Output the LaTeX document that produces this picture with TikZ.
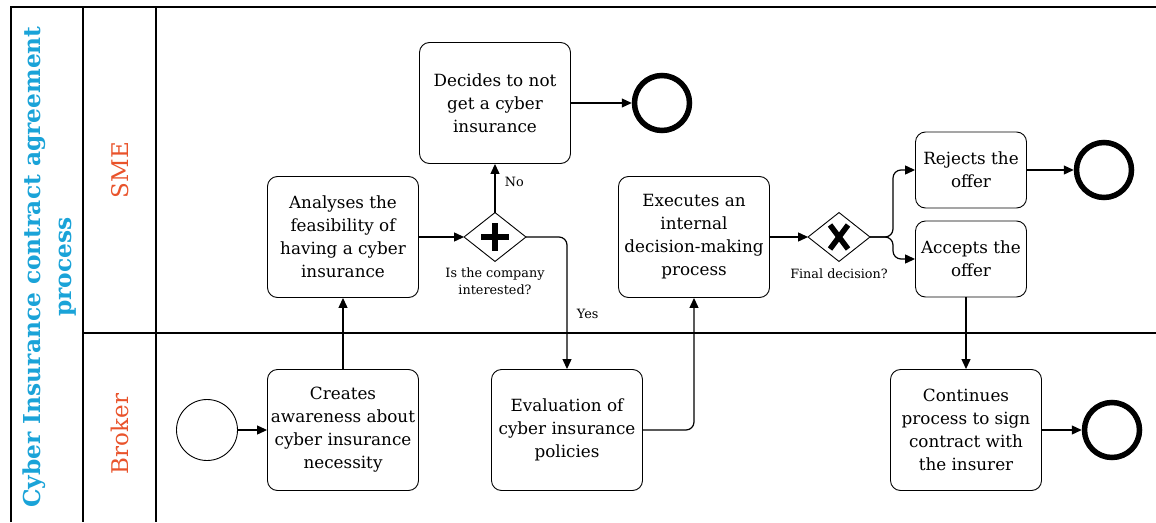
\documentclass[tikz,border=0pt]{standalone}
\usepackage{fontspec}
\setmainfont{DejaVu Serif}
\usetikzlibrary{arrows.meta}
\definecolor{poolblue}{HTML}{1AA3D8}
\definecolor{lanered}{HTML}{E9532B}
\begin{document}
\begin{tikzpicture}[x=1pt,y=-1pt,
  task/.style={draw, rounded corners=10pt, line width=0.9pt, align=center,
    inner sep=0pt, minimum width=151pt, minimum height=121pt,
    font=\fontsize{16.8}{23}\selectfont},
  smalltask/.style={task, minimum width=111pt, minimum height=76pt},
  flow/.style={line width=1.2pt, -{Triangle[length=10pt,width=9pt]}},
  startev/.style={draw, circle, line width=0.9pt, minimum size=61pt, inner sep=0pt},
  endev/.style={draw, circle, line width=5.5pt, minimum size=55pt, inner sep=0pt},
  gw/.style={draw, line width=0.9pt, inner sep=0pt, minimum size=1pt},
  gwlabel/.style={font=\fontsize{12.8}{17}\selectfont, align=center},
  flowlabel/.style={font=\fontsize{12.8}{14}\selectfont},
  lanename/.style={rotate=90, text=lanered, font=\fontsize{23}{26}\selectfont},
  frame/.style={line width=1.3pt}
]
\useasboundingbox (0,0) rectangle (1156,522);

% pool and lanes
\draw[frame] (11,522) -- (11,7);
\draw[line width=2.4pt] (10,7) -- (1156,7);
\draw[frame] (83,7) -- (83,522);
\draw[frame] (156,7) -- (156,522);
\draw[line width=1.8pt] (83,333) -- (1156,333);

\node[rotate=90, text=poolblue, align=center,
  font=\bfseries\fontsize{23.3}{31}\selectfont] (pool) at (50,267)
  {Cyber Insurance contract agreement\\process};
\node[lanename] (sme) at (120,170) {SME};
\node[lanename] (broker) at (120,434) {Broker};

% tasks
\node[startev] (start) at (207,430) {};
\node[task] (aware) at (343,430) {Creates\\awareness about\\cyber insurance\\necessity};
\node[task] (analyse) at (343,237) {Analyses the\\feasibility of\\having a cyber\\insurance};
\node[task] (decline) at (495,103) {Decides to not\\get a cyber\\insurance};
\node[endev] (end1) at (662,103) {};
\node[task] (eval) at (567,430) {Evaluation of\\cyber insurance\\policies};
\node[task] (exec) at (694,237) {Executes an\\internal\\decision-making\\process};
\node[smalltask] (reject) at (971,170) {Rejects the\\offer};
\node[smalltask] (accept) at (971,259) {Accepts the\\offer};
\node[endev] (end2) at (1104,170) {};
\node[task] (cont) at (966,430) {Continues\\process to sign\\contract with\\the insurer};
\node[endev] (end3) at (1112,430) {};

% gateways
\coordinate (g1) at (495,237);
\node[gw, draw=none, minimum width=61pt, minimum height=48pt] (gwA) at (g1) {};
\draw[line width=0.9pt] (gwA.west) -- (gwA.north) -- (gwA.east) -- (gwA.south) -- cycle;
\draw[line width=6.5pt] (g1) ++(-14,0) -- ++(28,0);
\draw[line width=6.5pt] (g1) ++(0,-14) -- ++(0,28);
\node[gwlabel, anchor=north] (gwAlabel) at (495,264) {Is the company\\interested?};

\coordinate (g2) at (839,237);
\node[gw, draw=none, minimum width=61pt, minimum height=48pt] (gwB) at (g2) {};
\draw[line width=0.9pt] (gwB.west) -- (gwB.north) -- (gwB.east) -- (gwB.south) -- cycle;
\draw[line width=5.5pt] (g2) ++(-9,-12) -- ++(18,24);
\draw[line width=5.5pt] (g2) ++(9,-12) -- ++(-18,24);
\node[gwlabel, anchor=north] (gwBlabel) at (839,265) {Final decision?};

% sequence flows
\draw[flow] (start) -- (aware);
\draw[flow] (aware) -- (analyse);
\draw[flow] (analyse) -- (gwA.west);
\draw[flow] (gwA.north) -- (decline) node[flowlabel, pos=0.64, right=6pt] (no) {No};
\draw[flow] (decline) -- (end1);
\draw[flow, rounded corners=8pt] (gwA.east) -| (eval.north)
  node[flowlabel, pos=0.79, right=6pt] (yes) {Yes};
\draw[flow, rounded corners=8pt] (eval.east) -| (exec.south);
\draw[flow] (exec) -- (gwB.west);
\coordinate (split) at (893,237);
\draw[flow, rounded corners=8pt] (gwB.east) -- (split) |- (reject.west);
\draw[flow, rounded corners=8pt] (gwB.east) -- (split) |- (accept.west);
\draw[flow] (reject) -- (end2);
\draw[flow] (accept.south -| cont.north) -- (cont.north);
\draw[flow] (cont) -- (end3);
\end{tikzpicture}
\end{document}
